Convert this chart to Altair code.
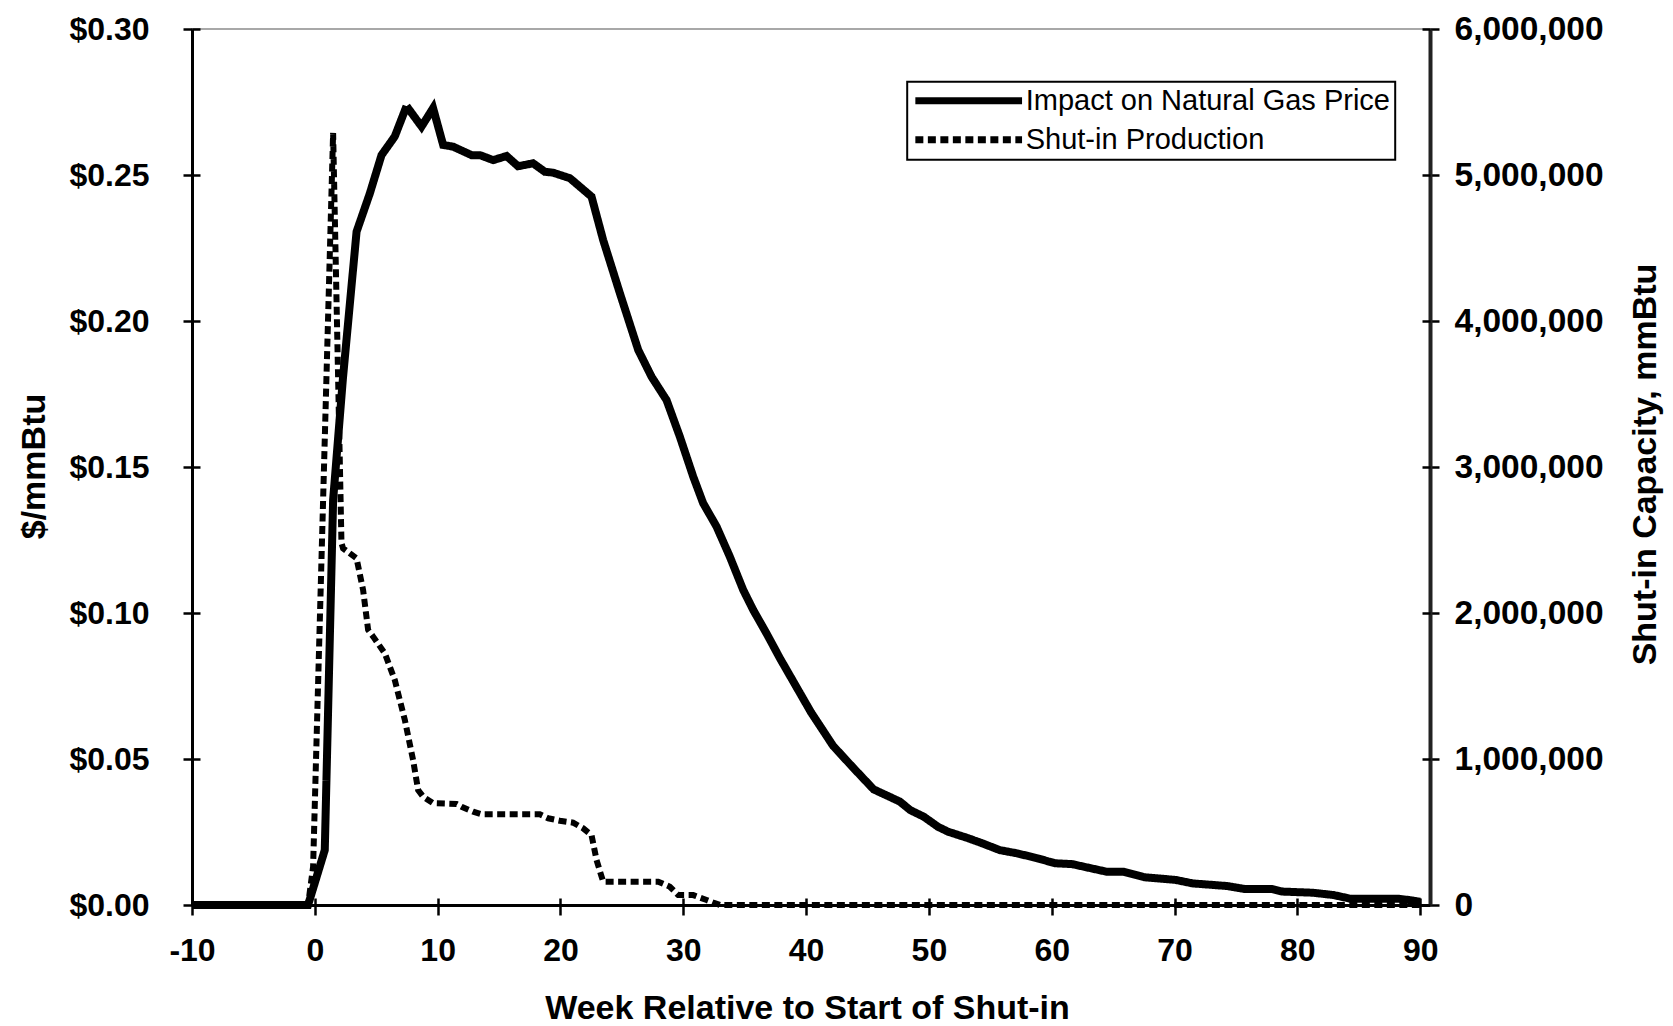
import altair as alt
import pandas as pd

# ---- series ----
PRICE = "Impact on Natural Gas Price"
SHUT = "Shut-in Production"

price_weeks = [-10, -0.55, 0.81, 1.49, 2.30, 3.40, 4.48, 5.43, 6.51, 7.47, 8.69, 9.63,
               10.45, 11.26, 12.76, 13.44, 14.52, 15.61, 16.55, 17.77, 18.73, 19.40,
               20.77, 22.53, 23.48, 24.84, 26.33, 27.42, 28.64, 29.72, 30.81, 31.62,
               32.71, 33.79, 34.88, 35.70, 36.78, 37.87, 40.4, 42.2, 43.86, 45.5,
               47.64, 48.48, 49.60, 50.73, 51.56, 53.25, 54.36, 55.77, 57.17, 58.84,
               60.26, 61.66, 64.46, 65.86, 67.54, 70.07, 71.47, 74.27, 75.68, 77.92,
               78.76, 81.28, 82.97, 84.36, 88.3, 89.1, 90.0]
price_values = [0, 0, 0.0188, 0.1387, 0.1809, 0.2306, 0.2437, 0.2568, 0.2632, 0.2736,
                0.2666, 0.2729, 0.2603, 0.2597, 0.2568, 0.2568, 0.2551, 0.2565, 0.2530,
                0.2540, 0.2511, 0.2508, 0.2489, 0.2426, 0.2277, 0.2095, 0.1901, 0.1809,
                0.1729, 0.1604, 0.1467, 0.1376, 0.1296, 0.1193, 0.1079, 0.1010, 0.0930,
                0.0845, 0.0660, 0.0545, 0.0469, 0.0396, 0.0354, 0.0325, 0.0302, 0.0268,
                0.0251, 0.0228, 0.0211, 0.0188, 0.0177, 0.0160, 0.0143, 0.0140, 0.0114,
                0.0114, 0.0095, 0.0086, 0.0074, 0.0065, 0.0055, 0.0055, 0.0046, 0.0042,
                0.0034, 0.0021, 0.0021, 0.0017, 0.0011]

shut_weeks = [-10, -0.55, -0.14, 1.49, 2.17, 2.30, 3.40, 3.93, 4.34, 4.75, 5.70, 6.51,
              7.33, 8.00, 8.41, 8.82, 9.63, 11.54, 11.95, 12.89, 13.57, 18.32, 19.00,
              19.95, 21.03, 21.85, 22.53, 22.94, 23.35, 23.48, 27.96, 28.91, 29.59,
              30.81, 31.90, 32.44, 33.00, 90.0]
shut_values = [0, 0, 262000, 5288000, 2480000, 2443000, 2374000, 2158000, 1884000,
               1838000, 1724000, 1541000, 1267000, 993000, 788000, 742000, 697000,
               692000, 673000, 639000, 621000, 621000, 594000, 577000, 564000, 525000,
               479000, 308000, 194000, 160000, 160000, 125000, 68000, 68000, 34000,
               16000, 0, 0]

week_ticks = list(range(-10, 91, 10))
price_ticks = [0, 0.05, 0.10, 0.15, 0.20, 0.25, 0.30]
shut_ticks = [0, 1000000, 2000000, 3000000, 4000000, 5000000, 6000000]

data = pd.concat([
    pd.DataFrame({"week": price_weeks, "value": price_values, "series": PRICE}),
    pd.DataFrame({"week": shut_weeks, "value": shut_values, "series": SHUT}),
], ignore_index=True)

FONT = "Liberation Sans"

x_scale = alt.Scale(domain=[-10, 90.8], nice=False, zero=False)
price_scale = alt.Scale(domain=[0, 0.3], nice=False)
shut_scale = alt.Scale(domain=[0, 6000000], nice=False)
dash_scale = alt.Scale(domain=[PRICE, SHUT], range=[[1, 0], [8, 4.5]])

legend = alt.Legend(
    title=None,
    orient="none",
    legendX=715.2,
    legendY=52.7,
    direction="vertical",
    symbolType="stroke",
    symbolSize=11385,
    symbolStrokeWidth=7,
    symbolStrokeColor="black",
    clipHeight=29,
    labelFont=FONT,
    labelFontSize=29,
    labelFontWeight="normal",
    labelColor="black",
    labelOffset=0,
    labelLimit=600,
    padding=4.5,
    rowPadding=9,
    strokeColor="black",
    fillColor="white",
)

base = alt.Chart(data)

# price line with the main bottom and left axes
price_line = base.transform_filter(alt.datum.series == PRICE).mark_line(
    color="black", strokeWidth=8
).encode(
    x=alt.X("week:Q", scale=x_scale, axis=alt.Axis(
        orient="bottom", values=week_ticks, labelExpr="'' + datum.value",
        tickSize=10, tickWidth=2.5, domainWidth=3, labelPadding=20,
        labelFlush=False, labelOverlap=False,
        title="Week Relative to Start of Shut-in", titleX=615, titleY=113,
        titleAlign="center", titleBaseline="alphabetic")),
    y=alt.Y("value:Q", scale=price_scale, axis=alt.Axis(
        orient="left", values=price_ticks, format="$.2f",
        tickSize=9, tickWidth=2.5, domainWidth=3, labelPadding=34,
        labelOverlap=False,
        title="$/mmBtu", titleAngle=270, titleX=-148, titleY=437,
        titleAlign="center", titleBaseline="alphabetic")),
    strokeDash=alt.StrokeDash("series:N", scale=dash_scale, legend=legend),
)

# shut-in line with the right axis and inner half of bottom ticks
shut_line = base.transform_filter(alt.datum.series == SHUT).mark_line(
    color="black", strokeWidth=6
).encode(
    x=alt.X("week:Q", scale=x_scale, axis=alt.Axis(
        orient="bottom", values=week_ticks, offset=-7, tickSize=7, tickWidth=2.5,
        domain=False, labels=False, title=None)),
    y=alt.Y("value:Q", scale=shut_scale, axis=alt.Axis(
        orient="right", values=shut_ticks, format=",d",
        tickSize=9, tickWidth=2.5, domainWidth=4, domainColor="#222",
        labelPadding=15, labelOverlap=False, labelFontSize=33.5,
        title="Shut-in Capacity, mmBtu", titleAngle=270, titleX=225, titleY=435,
        titleAlign="center", titleBaseline="alphabetic")),
    strokeDash=alt.StrokeDash("series:N", scale=dash_scale, legend=legend),
)

# inner halves of the left and right ticks
price_inner = base.transform_filter(alt.datum.series == PRICE).mark_line(
    strokeOpacity=0
).encode(
    x=alt.X("week:Q", scale=x_scale, axis=None),
    y=alt.Y("value:Q", scale=price_scale, axis=alt.Axis(
        orient="left", values=price_ticks, offset=-8, tickSize=8, tickWidth=2.5,
        domain=False, labels=False, title=None)),
)
shut_inner = base.transform_filter(alt.datum.series == SHUT).mark_line(
    strokeOpacity=0
).encode(
    x=alt.X("week:Q", scale=x_scale, axis=None),
    y=alt.Y("value:Q", scale=shut_scale, axis=alt.Axis(
        orient="right", values=shut_ticks, offset=-8, tickSize=8, tickWidth=2.5,
        domain=False, labels=False, title=None)),
)

chart = alt.layer(price_line, shut_line, price_inner, shut_inner).resolve_scale(
    y="independent"
).resolve_axis(
    x="independent", y="independent"
).properties(
    width=1238,
    height=876,
    autosize=alt.AutoSizeParams(type="none"),
    padding={"left": 192, "top": 29, "right": 243, "bottom": 121},
    background="white",
).configure_view(
    stroke="#8c8c8c", strokeWidth=1.5
).configure_axis(
    labelFont=FONT, titleFont=FONT,
    labelFontWeight="bold", titleFontWeight="bold",
    labelFontSize=32, titleFontSize=34,
    labelColor="black", titleColor="black",
    domainColor="black", tickColor="black", grid=False,
).configure_legend(
    strokeWidth=2
)

chart.save("out.html", embed_options={"renderer": "svg", "actions": False})
